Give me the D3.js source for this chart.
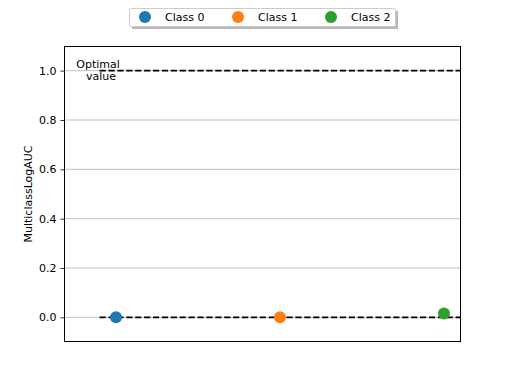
<!DOCTYPE html>
<html><head><meta charset="utf-8">
<script src="https://cdn.jsdelivr.net/npm/d3@7"></script>
<style>body{margin:0;background:#fff}svg{font-family:"DejaVu Sans",sans-serif}</style>
</head><body>
<script>
const categories = ["Class 0", "Class 1", "Class 2"];
const positions = [0, 1, 2];
const values = [0.0, 0.0, 0.016];
const yTicks = [0.0, 0.2, 0.4, 0.6, 0.8, 1.0];
const refLines = [0.0, 1.0];
const colors = ["#1f77b4", "#ff7f0e", "#2ca02c"];

const W = 512, H = 384;
const m = {left: 64, right: 51, top: 46, bottom: 42};
const svg = d3.select("body").append("svg").attr("width", W).attr("height", H);
const x = d3.scaleLinear().domain([-0.317, 2.104]).range([m.left, W - m.right]);
const y = d3.scaleLinear().domain([-0.1, 1.1]).range([H - m.bottom, m.top]);

svg.append("defs").append("clipPath").attr("id", "clip")
  .append("rect").attr("x", m.left).attr("y", m.top)
  .attr("width", W - m.left - m.right).attr("height", H - m.top - m.bottom);

// grid
svg.append("g").selectAll("line").data(yTicks).join("line")
  .attr("x1", m.left).attr("x2", W - m.right)
  .attr("y1", d => y(d)).attr("y2", d => y(d))
  .attr("stroke", "#b0b0b0").attr("stroke-width", 0.8);

// reference dashed lines
svg.append("g").attr("clip-path", "url(#clip)").selectAll("line").data(refLines).join("line")
  .attr("x1", x(-0.1)).attr("x2", x(2.2))
  .attr("y1", d => y(d)).attr("y2", d => y(d))
  .attr("stroke", "#000").attr("stroke-width", 1.6).attr("stroke-dasharray", "6.2,2.7");

// points
svg.append("g").attr("clip-path", "url(#clip)").selectAll("circle").data(values).join("circle")
  .attr("cx", (d, i) => x(positions[i])).attr("cy", d => y(d)).attr("r", 6)
  .attr("fill", (d, i) => colors[i]);

// optimal text
const t = svg.append("text").attr("font-size", 11).attr("text-anchor", "middle").attr("fill", "#000");
t.append("tspan").attr("x", 98).attr("y", y(1.0) - 3).text("Optimal");
t.append("tspan").attr("x", 101).attr("y", y(1.0) + 9).text("value");

// y axis
const ya = svg.append("g").attr("transform", `translate(${m.left},0)`)
  .call(d3.axisLeft(y).tickValues(yTicks).tickFormat(d3.format(".1f")).tickSize(3.5).tickPadding(4));
ya.select(".domain").remove();
ya.selectAll("text").attr("font-size", 11).attr("font-family", "DejaVu Sans").attr("fill", "#000");
ya.selectAll(".tick line").attr("stroke", "#000").attr("stroke-width", 0.8);

// frame
svg.append("rect").attr("x", m.left + 0.5).attr("y", m.top + 0.5)
  .attr("width", W - m.left - m.right - 1).attr("height", H - m.top - m.bottom - 1)
  .attr("fill", "none").attr("stroke", "#000").attr("stroke-width", 1);

svg.append("text").attr("transform", `translate(32,${(m.top + H - m.bottom) / 2}) rotate(-90)`)
  .attr("text-anchor", "middle").attr("font-size", 11).text("MulticlassLogAUC");

// legend
const lg = svg.append("g");
lg.append("rect").attr("x", 132).attr("y", 11).attr("width", 266).attr("height", 18).attr("fill", "#888").attr("opacity", 0.6);
lg.append("rect").attr("x", 129.5).attr("y", 8.5).attr("width", 266).attr("height", 18).attr("fill", "#fff")
  .attr("stroke", "#ccc").attr("stroke-width", 1).attr("rx", 2);
categories.forEach((c, i) => {
  const cx = 145 + i * 93;
  lg.append("circle").attr("cx", cx).attr("cy", 17).attr("r", 6).attr("fill", colors[i]);
  lg.append("text").attr("x", cx + 20).attr("y", 21).attr("font-size", 11).text(c);
});
</script>
</body></html>
